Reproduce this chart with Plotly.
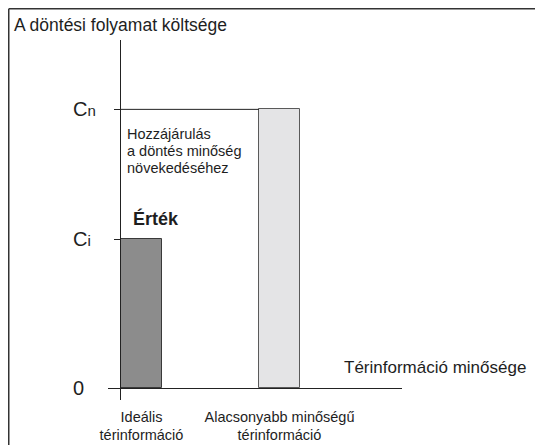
import plotly.graph_objects as go

# ---- data ----
CATEGORIES = ["Ideális<br>térinformáció", "Alacsonyabb minőségű<br>térinformáció"]
COSTS = [1.0, 1.87]            # Ci, Cn (relative cost levels)
BAR_COLORS = ["#8c8c8c", "#e4e4e6"]
BAR_EDGES = ["#3a3a3a", "#5a5a5a"]
Y_TICK_MAIN = ["0", "C", "C"]
Y_TICK_SUB = ["", "i", "n"]
TITLE = "A döntési folyamat költsége"
X_TITLE = "Térinformáció minősége"
NOTE_LINES = ["Hozzájárulás", "a döntés minőség", "növekedéséhez"]
VALUE_LABEL = "Érték"

# ---- layout geometry (page pixels) ----
W, H = 535, 445
ML, MR, MT, MB = 121, 133, 40, 45
PW, PH = W - ML - MR, H - MT - MB
BAR_W = 0.297
CAT_PX = 138
ZERO_PX = 12
UNIT_PX = 149
FONT = "Liberation Sans, Arial, sans-serif"
INK = "#1e1e1e"

x_range = [-BAR_W / 2, -BAR_W / 2 + PW / CAT_PX]
y_range = [-ZERO_PX / UNIT_PX, (PH - ZERO_PX) / UNIT_PX]

fig = go.Figure()
fig.add_trace(go.Bar(
    x=list(range(len(CATEGORIES))), y=COSTS, width=BAR_W,
    marker=dict(color=BAR_COLORS, line=dict(color=BAR_EDGES, width=1)),
    hoverinfo="skip", showlegend=False,
))

y_tick_vals = [0] + COSTS
annotations = []
for v, main, sub in zip(y_tick_vals, Y_TICK_MAIN, Y_TICK_SUB):
    txt = main + (f"<span style='font-size:15px'>{sub}</span>" if sub else "")
    annotations.append(dict(text=txt, xref="paper", x=0, xanchor="left", xshift=-50,
                            yref="y", y=v, yanchor="middle", showarrow=False,
                            font=dict(size=20, color=INK, family=FONT)))
for i, line in enumerate(NOTE_LINES):
    annotations.append(dict(text=line, xref="paper", x=0, xanchor="left", xshift=4,
                            yref="y", y=COSTS[1], yanchor="top", yshift=-15 - 17 * i,
                            align="left", showarrow=False,
                            font=dict(size=14.5, color=INK, family=FONT)))
annotations.append(dict(text=f"<b>{VALUE_LABEL}</b>", xref="paper", x=0, xanchor="left", xshift=10,
                        yref="y", y=COSTS[0], yanchor="bottom", yshift=8,
                        showarrow=False, font=dict(size=18, color=INK, family=FONT)))
annotations.append(dict(text=X_TITLE, xref="paper", x=1, xanchor="left", xshift=-60,
                        yref="y", y=0, yanchor="bottom", yshift=9,
                        showarrow=False, font=dict(size=17, color=INK, family=FONT)))

frame_left = (8.75 - ML) / PW
frame_top = 1 + (MT - 8.75) / PH
shapes = [
    # connector from axis to the lower-quality bar at Cn
    dict(type="line", xref="x", yref="y", x0=x_range[0], x1=1 - BAR_W / 2,
         y0=COSTS[1], y1=COSTS[1], line=dict(color="#222", width=1)),
    # outer frame: left and top edges
    dict(type="line", xref="paper", yref="paper", x0=frame_left, x1=frame_left,
         y0=-MB / PH, y1=frame_top, line=dict(color="#333", width=1.5)),
    dict(type="line", xref="paper", yref="paper", x0=frame_left, x1=(W - ML) / PW,
         y0=frame_top, y1=frame_top, line=dict(color="#333", width=1.5)),
]

fig.update_layout(
    template="none",
    width=W, height=H,
    margin=dict(l=ML, r=MR, t=MT, b=MB, pad=0),
    paper_bgcolor="white", plot_bgcolor="white",
    title=dict(text=TITLE, x=14 / W, xref="container", xanchor="left",
               y=1 - 25 / H, yref="container", yanchor="middle",
               font=dict(size=17.5, color=INK, family=FONT)),
    xaxis=dict(range=x_range, showline=False, zeroline=False, showgrid=False,
               automargin=False,
               tickmode="array", tickvals=list(range(len(CATEGORIES))), ticktext=CATEGORIES,
               ticks="", ticklabelstandoff=6,
               tickfont=dict(size=14.5, color=INK, family=FONT)),
    yaxis=dict(range=y_range, showline=True, linecolor="#222", linewidth=1,
               automargin=False,
               showgrid=False, zeroline=True, zerolinecolor="#222", zerolinewidth=1,
               tickmode="array", tickvals=[0], ticks="outside", ticklen=12,
               tickcolor="#222", tickwidth=1, showticklabels=False,
               minor=dict(tickmode="array", tickvals=COSTS, ticks="outside",
                          ticklen=6, tickcolor="#222", tickwidth=1)),
    annotations=annotations,
    shapes=shapes,
    bargap=0,
)

fig.write_html(
    "out.html",
    config={"displayModeBar": False},
    post_script="document.body.style.margin='0';document.documentElement.style.overflow='hidden';document.body.style.overflow='hidden';",
)
